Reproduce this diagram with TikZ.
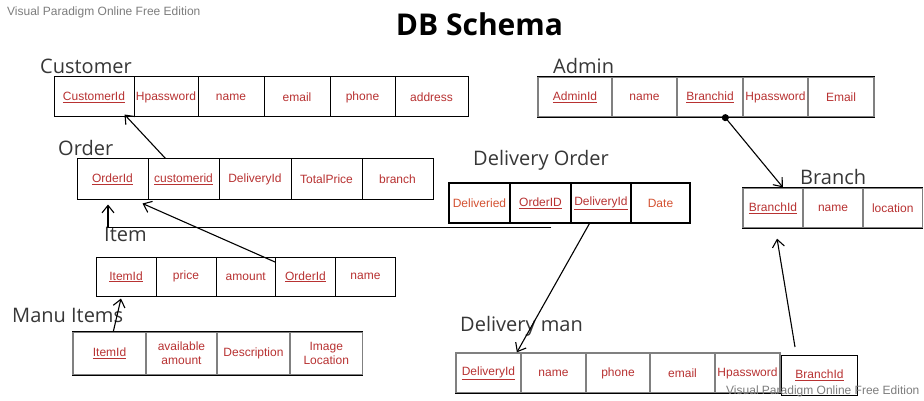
\documentclass[tikz,border=0pt]{standalone}
\usepackage{fontspec}
\setmainfont{Liberation Sans}
\newfontfamily\labfont{Open Sans}
\usetikzlibrary{arrows.meta}
\definecolor{cred}{RGB}{184,50,50}
\definecolor{corg}{RGB}{212,82,50}
\definecolor{labgray}{RGB}{55,55,55}
\definecolor{wmgray}{RGB}{125,125,125}
\definecolor{sepgray}{RGB}{128,128,128}
\newcommand{\mkcell}[7]{\node[cell,#6,minimum width={(#3-#2)*1pt},minimum height={(#5-#4)*1pt}] (#1) at ({(#2+#3)/2},{(#4+#5)/2}) {#7};}
\tikzset{
  cell/.style={draw=black, line width=1pt, inner sep=0pt, align=center, text=cred,
    font=\fontsize{12}{14}\selectfont},
  graycell/.style={draw=sepgray, line width=1.3pt},
  boldcell/.style={line width=1.2pt},
  orgtext/.style={text=corg},
  tlabel/.style={anchor=base west, text=labgray, font=\labfont\fontsize{20}{24}\selectfont, inner sep=0pt},
  wm/.style={anchor=base west, text=wmgray, font=\fontsize{12}{14}\selectfont, inner sep=0pt},
  rel/.style={line width=1.1pt, -{Straight Barb[length=7.5pt,width=12pt,line width=1.1pt]}},
  edge/.style={line width=1pt, black}
}
\begin{document}
\begin{tikzpicture}[x=1pt,y=-1pt]
\useasboundingbox (0,0) rectangle (924,401);
\fill[white] (0,0) rectangle (924,401);

% watermarks and title
\node[wm] (wmtop) at (7,15.5) {Visual Paradigm Online Free Edition};
\node[anchor=base, inner sep=0pt, font=\labfont\bfseries\fontsize{30}{36}\selectfont] (title) at (479.5,36) {DB Schema};

% table labels
\node[tlabel] (lcust) at (40,74) {Customer};
\node[tlabel] (ladmin) at (553,74) {Admin};
\node[tlabel] (lorder) at (58,156) {Order};
\node[tlabel] (ldo) at (473,166) {Delivery Order};
\node[tlabel] (lbranch) at (800,185) {Branch};
\node[tlabel] (litem) at (104,241) {Item};
\node[tlabel] (lmanu) at (12,322) {Manu Items};
\node[tlabel] (ldm) at (460,331) {Delivery man};

% Customer
\mkcell{cid}{54}{134}{77}{117}{}{\underline{CustomerId}}
\mkcell{chp}{134}{198}{77}{117}{}{Hpassword}
\mkcell{cname}{198}{264}{77}{117}{}{name}
\mkcell{cemail}{264}{330}{77}{117}{}{email}
\mkcell{cphone}{330}{395}{77}{117}{}{phone}
\mkcell{caddr}{395}{468}{77}{117}{}{address}

% Admin
\mkcell{aid}{538}{612}{77}{117}{graycell}{\underline{AdminId}}
\mkcell{aname}{612}{677}{77}{117}{graycell}{name}
\mkcell{abr}{677}{743}{77}{117}{graycell}{\underline{Branchid}}
\mkcell{ahp}{743}{808}{77}{117}{graycell}{Hpassword}
\mkcell{aem}{808}{874}{77}{117}{graycell}{Email}
\draw[edge] (aid.north west) -- (aem.north east);
\draw[edge] (aid.south west) -- (aem.south east);

% Order
\mkcell{oid}{77}{148}{159}{199}{}{\underline{OrderId}}
\mkcell{ocust}{148}{219}{159}{199}{}{\underline{customerid}}
\mkcell{odel}{219}{291}{159}{199}{}{DeliveryId}
\mkcell{otp}{291}{362}{159}{199}{}{TotalPrice}
\mkcell{obr}{362}{433}{159}{199}{}{branch}

% Delivery Order
\mkcell{dodel}{449}{510}{183}{223}{boldcell,orgtext}{Deliveried}
\mkcell{dooid}{510}{571}{183}{223}{boldcell}{\underline{OrderID}}
\mkcell{dodid}{571}{631}{183}{223}{boldcell}{\underline{DeliveryId}}
\mkcell{dodate}{631}{690}{183}{223}{boldcell,orgtext}{Date}

% Branch
\mkcell{bid}{743}{803}{188}{228}{graycell}{\underline{BranchId}}
\mkcell{bname}{803}{863}{188}{228}{graycell}{name}
\mkcell{bloc}{863}{922.5}{188}{228}{graycell}{location}
\draw[edge] (bid.north west) -- (bloc.north east);
\draw[edge] (bid.south west) -- (bloc.south east);

% Item
\mkcell{iid}{96}{156}{257}{296.5}{}{\underline{ItemId}}
\mkcell{iprice}{156}{216}{257}{296.5}{}{price}
\mkcell{iamt}{216}{275.5}{257}{296.5}{}{amount}
\mkcell{ioid}{275.5}{335.5}{257}{296.5}{}{\underline{OrderId}}
\mkcell{iname}{335.5}{395.5}{257}{296.5}{}{name}

% Manu Items
\mkcell{mid}{73}{146}{332}{374.5}{graycell}{\underline{ItemId}}
\mkcell{mav}{146}{217}{332}{374.5}{graycell}{available\\amount}
\mkcell{mdesc}{217}{290}{332}{374.5}{graycell}{Description}
\mkcell{mimg}{290}{362.5}{332}{374.5}{graycell}{Image\\Location}
\draw[edge] (mid.north west) -- (mimg.north east);
\draw[edge] (mid.south west) -- (mimg.south east);

% Delivery man
\mkcell{dmid}{456}{521}{353}{393}{graycell}{\underline{DeliveryId}}
\mkcell{dmname}{521}{586}{353}{393}{graycell}{name}
\mkcell{dmphone}{586}{650}{353}{393}{graycell}{phone}
\mkcell{dmemail}{650}{715}{353}{393}{graycell}{email}
\mkcell{dmhp}{715}{780}{353}{393}{graycell}{Hpassword}
\draw[edge] (dmid.south west) -- (dmhp.south east);
\mkcell{dmbr}{781.5}{857.5}{355}{395}{}{\underline{BranchId}}

\node[wm] (wmbot) at (726,394.5) {Visual Paradigm Online Free Edition};

% relationships
\draw[rel] ([xshift=18pt]ocust.north west) -- ([xshift=71pt,yshift=3pt]cid.south west);
\draw[rel] ([yshift=-5.5pt]ioid.north west) -- ([xshift=-5pt,yshift=-4pt]ocust.south west);
\coordinate (dofree) at ([xshift=42pt,yshift=-4pt]dooid.south west);
\draw[rel] (dofree) -| ([xshift=31.5pt,yshift=-5pt]oid.south west);
\draw[line width=1.1pt, {Circle[length=7pt,width=7pt,sep=-3.5pt]}-{Straight Barb[length=7.5pt,width=12pt,line width=1.1pt]}] ([xshift=49pt]abr.south west) -- ([xshift=40.5pt]bid.north west);
\draw[rel] ([xshift=19pt]dodid.south west) -- ([xshift=61.5pt]dmid.north west);
\draw[rel] ([xshift=14pt,yshift=7.5pt]dmbr.north west) -- ([xshift=34.7pt,yshift=-10pt]bid.south west);
\draw[rel] ([xshift=41pt]mid.north west) -- ([xshift=25.5pt,yshift=-1.5pt]iid.south west);
\end{tikzpicture}
\end{document}
